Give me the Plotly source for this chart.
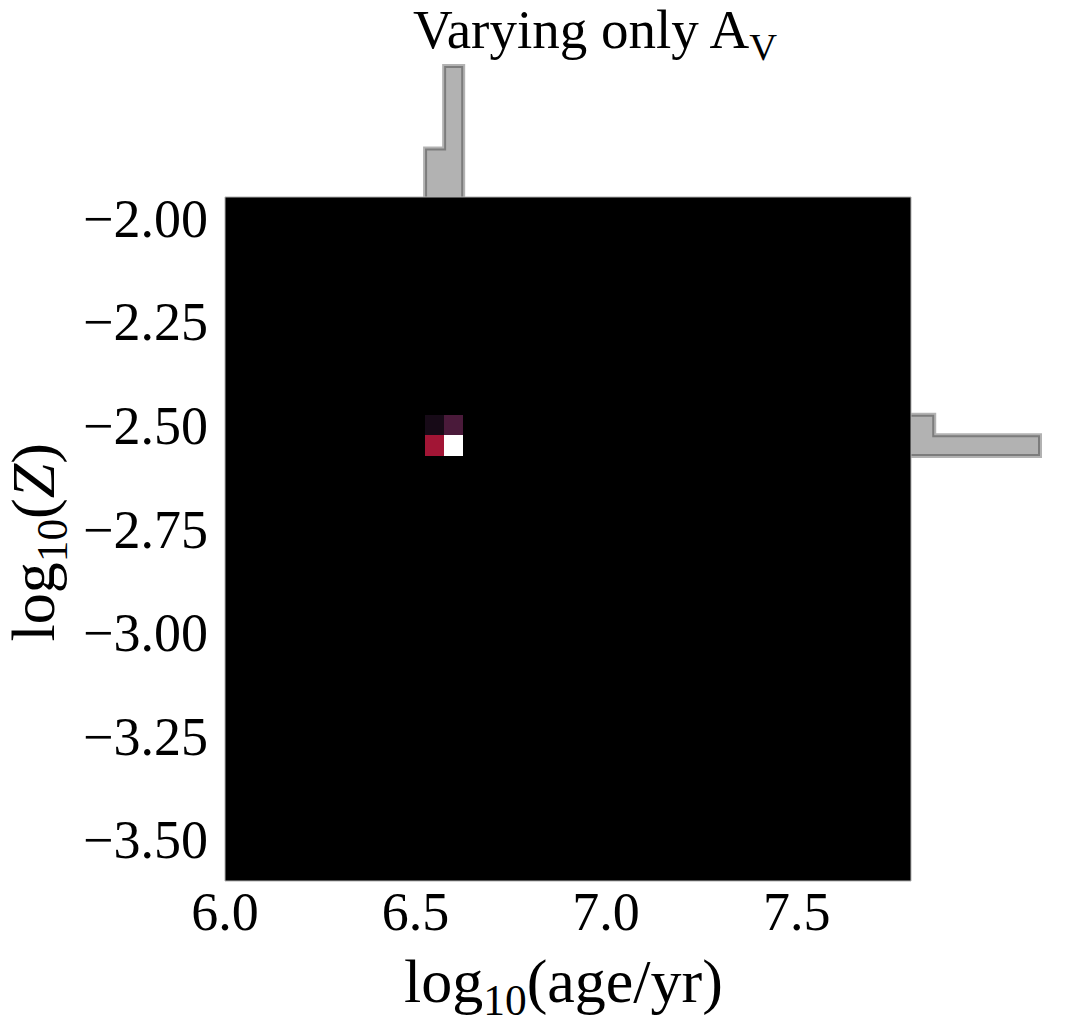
"""Joint posterior grid with step-histogram marginals, varying only A_V."""

import numpy as np
import plotly.graph_objects as go

WIDTH = 1075
HEIGHT = 1023
FONT = "Liberation Serif, Times New Roman, serif"

# Non-zero cells of the grid, everything else is 0
cell_ages = [6.55, 6.60, 6.55, 6.60]
cell_metals = [-2.50, -2.50, -2.55, -2.55]
cell_values = [0.09, 0.25, 0.55, 1.00]

# Marginals, scaled so the tallest bin is 1
age_bins = [6.55, 6.60]
age_hist = [0.37, 1.00]
metal_bins = [-2.55, -2.50]
metal_hist = [1.00, 0.18]

age_ticks = [6.0, 6.5, 7.0, 7.5]
metal_ticks = [-2.00, -2.25, -2.50, -2.75, -3.00, -3.25, -3.50]

BIN = 0.05
X_RANGE = [6.0, 7.8]
Y_RANGE = [-3.6, -1.95]

_FILL = "rgba(0,0,0,0.3)"
_EDGE = "rgba(0,0,0,0.3)"
_FRAME = "#b0b0b0"
_COLORSCALE = [
    [0.0, "#000000"],
    [0.09, "#170a17"],
    [0.25, "#4a1a3a"],
    [0.55, "#a21535"],
    [0.8, "#ee8a62"],
    [1.0, "#ffffff"],
]


def step_outline(centres, heights):
    """Return edge and height lists tracing a closed step histogram."""
    edges = [0.0]
    levels = [centres[0] - BIN / 2]
    for centre, height in zip(centres, heights):
        edges += [height, height]
        levels += [centre - BIN / 2, centre + BIN / 2]
    edges.append(0.0)
    levels.append(centres[-1] + BIN / 2)
    return levels, edges


age_grid = np.round(np.arange(X_RANGE[0], X_RANGE[1] + BIN / 2, BIN), 2)
metal_grid = np.round(np.arange(Y_RANGE[0], Y_RANGE[1] + BIN / 2, BIN), 2)
grid = np.zeros((len(metal_grid), len(age_grid)))
for age, metal, value in zip(cell_ages, cell_metals, cell_values):
    grid[np.argmin(abs(metal_grid - metal)), np.argmin(abs(age_grid - age))] = value

fig = go.Figure()
fig.add_trace(
    go.Heatmap(
        x=age_grid,
        y=metal_grid,
        z=grid,
        zmin=0,
        zmax=1,
        colorscale=_COLORSCALE,
        showscale=False,
        xaxis="x",
        yaxis="y",
    )
)

top_x, top_y = step_outline(age_bins, age_hist)
fig.add_trace(
    go.Scatter(
        x=top_x,
        y=top_y,
        mode="lines",
        fill="toself",
        fillcolor=_FILL,
        line={"color": _EDGE, "width": 4, "shape": "linear"},
        xaxis="x2",
        yaxis="y2",
        showlegend=False,
    )
)
right_y, right_x = step_outline(metal_bins, metal_hist)
fig.add_trace(
    go.Scatter(
        x=right_x,
        y=right_y,
        mode="lines",
        fill="toself",
        fillcolor=_FILL,
        line={"color": _EDGE, "width": 4, "shape": "linear"},
        xaxis="x3",
        yaxis="y3",
        showlegend=False,
    )
)

# Main panel spans x 225-911 px and y 197-881 px of the page
x_domain = [225 / WIDTH, 911 / WIDTH]
y_domain = [1 - 881 / HEIGHT, 1 - 197 / HEIGHT]

fig.update_layout(
    width=WIDTH,
    height=HEIGHT,
    margin={"l": 0, "r": 0, "t": 0, "b": 0},
    paper_bgcolor="#ffffff",
    plot_bgcolor="#ffffff",
    font={"family": FONT, "color": "#000000", "size": 54},
    showlegend=False,
    title={
        "text": "Varying only A<sub>V</sub>",
        "x": 595 / WIDTH,
        "xanchor": "center",
        "y": 1 - 29 / HEIGHT,
        "yanchor": "middle",
        "font": {"size": 55},
    },
    xaxis={
        "domain": x_domain,
        "range": X_RANGE,
        "tickvals": age_ticks,
        "tickformat": ".1f",
        "ticks": "",
        "ticklabelstandoff": -6,
        "automargin": False,
        "showgrid": False,
        "zeroline": False,
    },
    yaxis={
        "domain": y_domain,
        "range": Y_RANGE,
        "tickvals": metal_ticks,
        "tickformat": ".2f",
        "ticks": "",
        "ticklabelstandoff": 16,
        "automargin": False,
        "showgrid": False,
        "zeroline": False,
    },
    xaxis2={"domain": x_domain, "range": X_RANGE, "anchor": "y2", "visible": False},
    yaxis2={"domain": [1 - 197 / HEIGHT, 1], "range": [0, 197 / 131], "anchor": "x2", "visible": False},
    xaxis3={"domain": [911 / WIDTH, 1], "range": [0, 164 / 129], "anchor": "y3", "visible": False},
    yaxis3={"domain": y_domain, "range": Y_RANGE, "anchor": "x3", "visible": False},
)

# Faint edge round the panel
fig.add_shape(
    type="rect",
    xref="x domain",
    yref="y domain",
    x0=0,
    x1=1,
    y0=0,
    y1=1,
    line={"color": _FRAME, "width": 1},
)

# Axis titles as annotations, they sit slightly off the panel centre
fig.add_annotation(
    text="log<sub>10</sub>(age/yr)",
    xref="paper",
    yref="paper",
    x=563.5 / WIDTH,
    y=1 - 985 / HEIGHT,
    xanchor="center",
    yanchor="middle",
    showarrow=False,
    font={"size": 62},
)
fig.add_annotation(
    text="log<sub>10</sub>(<i>Z</i>)",
    xref="paper",
    yref="paper",
    x=37 / WIDTH,
    y=1 - 542.5 / HEIGHT,
    xanchor="center",
    yanchor="middle",
    textangle=-90,
    showarrow=False,
    font={"size": 62},
)

fig.write_html(
    "out.html",
    config={"displayModeBar": False},
    post_script="document.body.style.margin = '0';",
)
